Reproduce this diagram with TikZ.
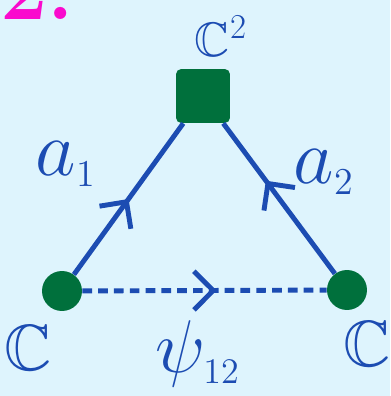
\documentclass[tikz,border=0pt]{standalone}
\usepackage{amsmath,amssymb}
\usetikzlibrary{arrows.meta,decorations.markings}

\definecolor{paper}{RGB}{222,244,253}
\definecolor{ink}{RGB}{28,76,178}
\definecolor{leaf}{RGB}{0,112,60}
\definecolor{pink}{RGB}{250,10,205}

\begin{document}
\begin{tikzpicture}[
    x=0.02cm, y=-0.02cm,
    vertex/.style={
        circle,
        fill=leaf,
        minimum size=0.8cm,
        inner sep=0pt
    },
    bigvertex/.style={
        rectangle,
        rounded corners=3pt,
        fill=leaf,
        minimum size=1.08cm,
        inner sep=0pt
    },
    wire/.style={ink, line width=2.8pt},
    midarrow/.style={
        postaction={decorate},
        decoration={markings, mark=at position #1 with
            {\arrow{Straight Barb[length=11pt, width=22pt, line width=2.8pt]}}}
    },
    lbl/.style={text=ink, inner sep=0pt, font=\fontsize{24}{28}\selectfont},
    biglbl/.style={lbl, scale=1.8}
]
\useasboundingbox (0,0) rectangle (390,396);
\fill[paper] (0,0) rectangle (390,396);
\clip (0,0) rectangle (390,396);

\node[text=pink, anchor=base west, inner sep=0pt,
      font=\fontsize{48}{52}\selectfont\bfseries] (num) at (0,19) {2.};

\node[bigvertex] (top) at (203,96) {};
\node[vertex] (left) at (62,291) {};
\node[vertex] (right) at (347,290) {};

\node[lbl, scale=1.15] (ctop) at (221,36) {$\mathbb{C}^2$};
\node[lbl, scale=1.55] (cleft) at (28,348) {$\mathbb{C}$};
\node[lbl, scale=1.55] (cright) at (367,344) {$\mathbb{C}$};
\node[biglbl] (aone) at (66,164) {$a_{\scriptscriptstyle 1}$};
\node[biglbl] (atwo) at (324,172) {$a_{\scriptscriptstyle 2}$};
\node[biglbl, scale=0.95] (psi) at (198,354) {$\psi_{\scriptscriptstyle 12}$};

\draw[wire, midarrow=0.5] (left) -- (top);
\draw[wire, midarrow=0.62] (right) -- (top);
\draw[wire, dash pattern=on 5.5pt off 3.5pt, midarrow=0.55] (left) -- (right);
\end{tikzpicture}
\end{document}
